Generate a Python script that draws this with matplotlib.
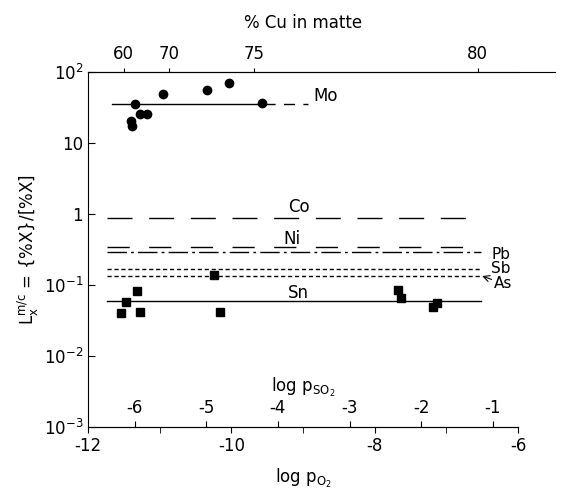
import numpy as np
import matplotlib
matplotlib.use("Agg")
import matplotlib.pyplot as plt
from matplotlib.lines import Line2D

plt.rcParams['font.family'] = ['DejaVu Sans']
plt.rcParams['mathtext.default'] = 'regular'
plt.rcParams['axes.unicode_minus'] = False

# Mo points (log pO2, L)
mo_x = [-11.35, -11.27, -11.17, -11.40, -11.38, -10.95, -10.34, -10.03, -9.57]
mo_y = [35.1, 25.6, 25.6, 20.6, 17.5, 49.4, 56.4, 70.7, 36.2]

# Sn points
sn_x = [-11.54, -11.47, -11.31, -11.27, -10.24, -10.16, -7.68, -7.63, -7.18, -7.13]
sn_y = [0.040, 0.057, 0.082, 0.042, 0.140, 0.042, 0.085, 0.065, 0.049, 0.056]

# fitted (constant) levels
mo_level = 35.0
co_level = 0.89
ni_level = 0.34
pb_level = 0.29
sb_level = 0.168
as_level = 0.134
sn_level = 0.0605
line_start = -11.74
line_end = -6.51

# secondary scales
pso2_offset = 5.35
pso2_ticks = [-6, -5, -4, -3, -2, -1]
cu_ticks = [60, 70, 75, 80]
cu_pos = [-11.50, -10.87, -9.68, -6.56]

fig = plt.figure(figsize=(5.62, 4.97), dpi=100)
ax = fig.add_axes([0.1566, 0.1408, 0.7651, 0.7142])

ax.set_yscale('log')
ax.set_xlim(-12, -6)
ax.set_ylim(1e-3, 1e2)

lw = 1.0
# Mo: solid then dashed
ax.plot([-11.67, -9.55], [mo_level, mo_level], color='k', lw=lw)
ax.plot([-9.55, -8.93], [mo_level, mo_level], color='k', lw=lw, dashes=(8, 6))
ax.plot([line_start, line_end], [co_level, co_level], color='k', lw=lw, dashes=(18, 12))
ax.plot([line_start, line_end], [ni_level, ni_level], color='k', lw=lw, dashes=(16, 14))
ax.plot([line_start, line_end], [pb_level, pb_level], color='k', lw=lw, dashes=(14, 3, 2, 3))
ax.plot([line_start, line_end], [sb_level, sb_level], color='k', lw=lw, dashes=(3, 2))
ax.plot([line_start, line_end], [as_level, as_level], color='k', lw=lw, dashes=(3, 2))
ax.plot([line_start, line_end], [sn_level, sn_level], color='k', lw=lw)

ax.plot(mo_x, mo_y, 'o', color='k', ms=6)
ax.plot(sn_x, sn_y, 's', color='k', ms=6)

fs = 12
ax.text(-8.86, 46, 'Mo', fontsize=fs, va='center', ha='left')
ax.text(-9.06, 1.24, 'Co', fontsize=fs, va='center', ha='center')
ax.text(-9.15, 0.445, 'Ni', fontsize=fs, va='center', ha='center')
ax.text(-9.07, 0.078, 'Sn', fontsize=fs, va='center', ha='center')
ax.text(-6.37, 0.272, 'Pb', fontsize=11, va='center', ha='left')
ax.text(-6.37, 0.170, 'Sb', fontsize=11, va='center', ha='left')
ax.annotate('As', xy=(-6.50, as_level), xytext=(-6.33, 0.104), fontsize=11,
            va='center', ha='left',
            arrowprops=dict(arrowstyle='->', lw=0.8, color='k', shrinkA=0, shrinkB=0))

# y axis
ax.set_yticks([1e-3, 1e-2, 1e-1, 1, 10, 100],
              labels=['$10^{-3}$', '$10^{-2}$', '$10^{-1}$', '1', '10', '$10^{2}$'])
ax.yaxis.set_minor_locator(matplotlib.ticker.NullLocator())
ax.tick_params(axis='y', direction='in', labelsize=fs, length=5)
ax.set_ylabel(r'$L_x^{m/c}$ = {%X}/[%X]', fontsize=fs, labelpad=2)

# bottom axis log pO2
ax.set_xticks([-12, -10, -8, -6])
ax.set_xticks([-11, -9, -7], minor=True)
ax.tick_params(axis='x', which='both', direction='out', labelsize=fs, length=4)
ax.set_xlabel('log $p_{O_2}$', fontsize=fs, labelpad=8)

ax.spines['right'].set_visible(False)

# inner pSO2 axis
sec = ax.secondary_xaxis(0, functions=(lambda x: x + pso2_offset, lambda s: s - pso2_offset))
sec.set_alignment('top')
sec.set_xticks(pso2_ticks)
sec.tick_params(axis='x', direction='out', labelsize=fs, length=4)
sec.set_xlabel('log $p_{SO_2}$', fontsize=fs, labelpad=5)
sec.xaxis.set_minor_locator(matplotlib.ticker.NullLocator())

# top % Cu axis (non-linear, ticks placed at matching log pO2)
top = ax.twiny()
top.set_xlim(ax.get_xlim())
top.set_xticks(cu_pos, labels=[str(c) for c in cu_ticks])
top.xaxis.set_minor_locator(matplotlib.ticker.NullLocator())
top.tick_params(axis='x', direction='out', labelsize=fs, length=3)
top.set_xlabel('% Cu in matte', fontsize=fs, labelpad=12)
for s in ['right', 'left', 'bottom']:
    top.spines[s].set_visible(False)
ax.tick_params(axis='x', top=False)

# top frame line runs past the right end
ax.add_line(Line2D([1.0, 1.086], [1.0, 1.0], transform=ax.transAxes, color='k',
                   lw=0.8, clip_on=False))

fig.savefig('out.png', dpi=100)
